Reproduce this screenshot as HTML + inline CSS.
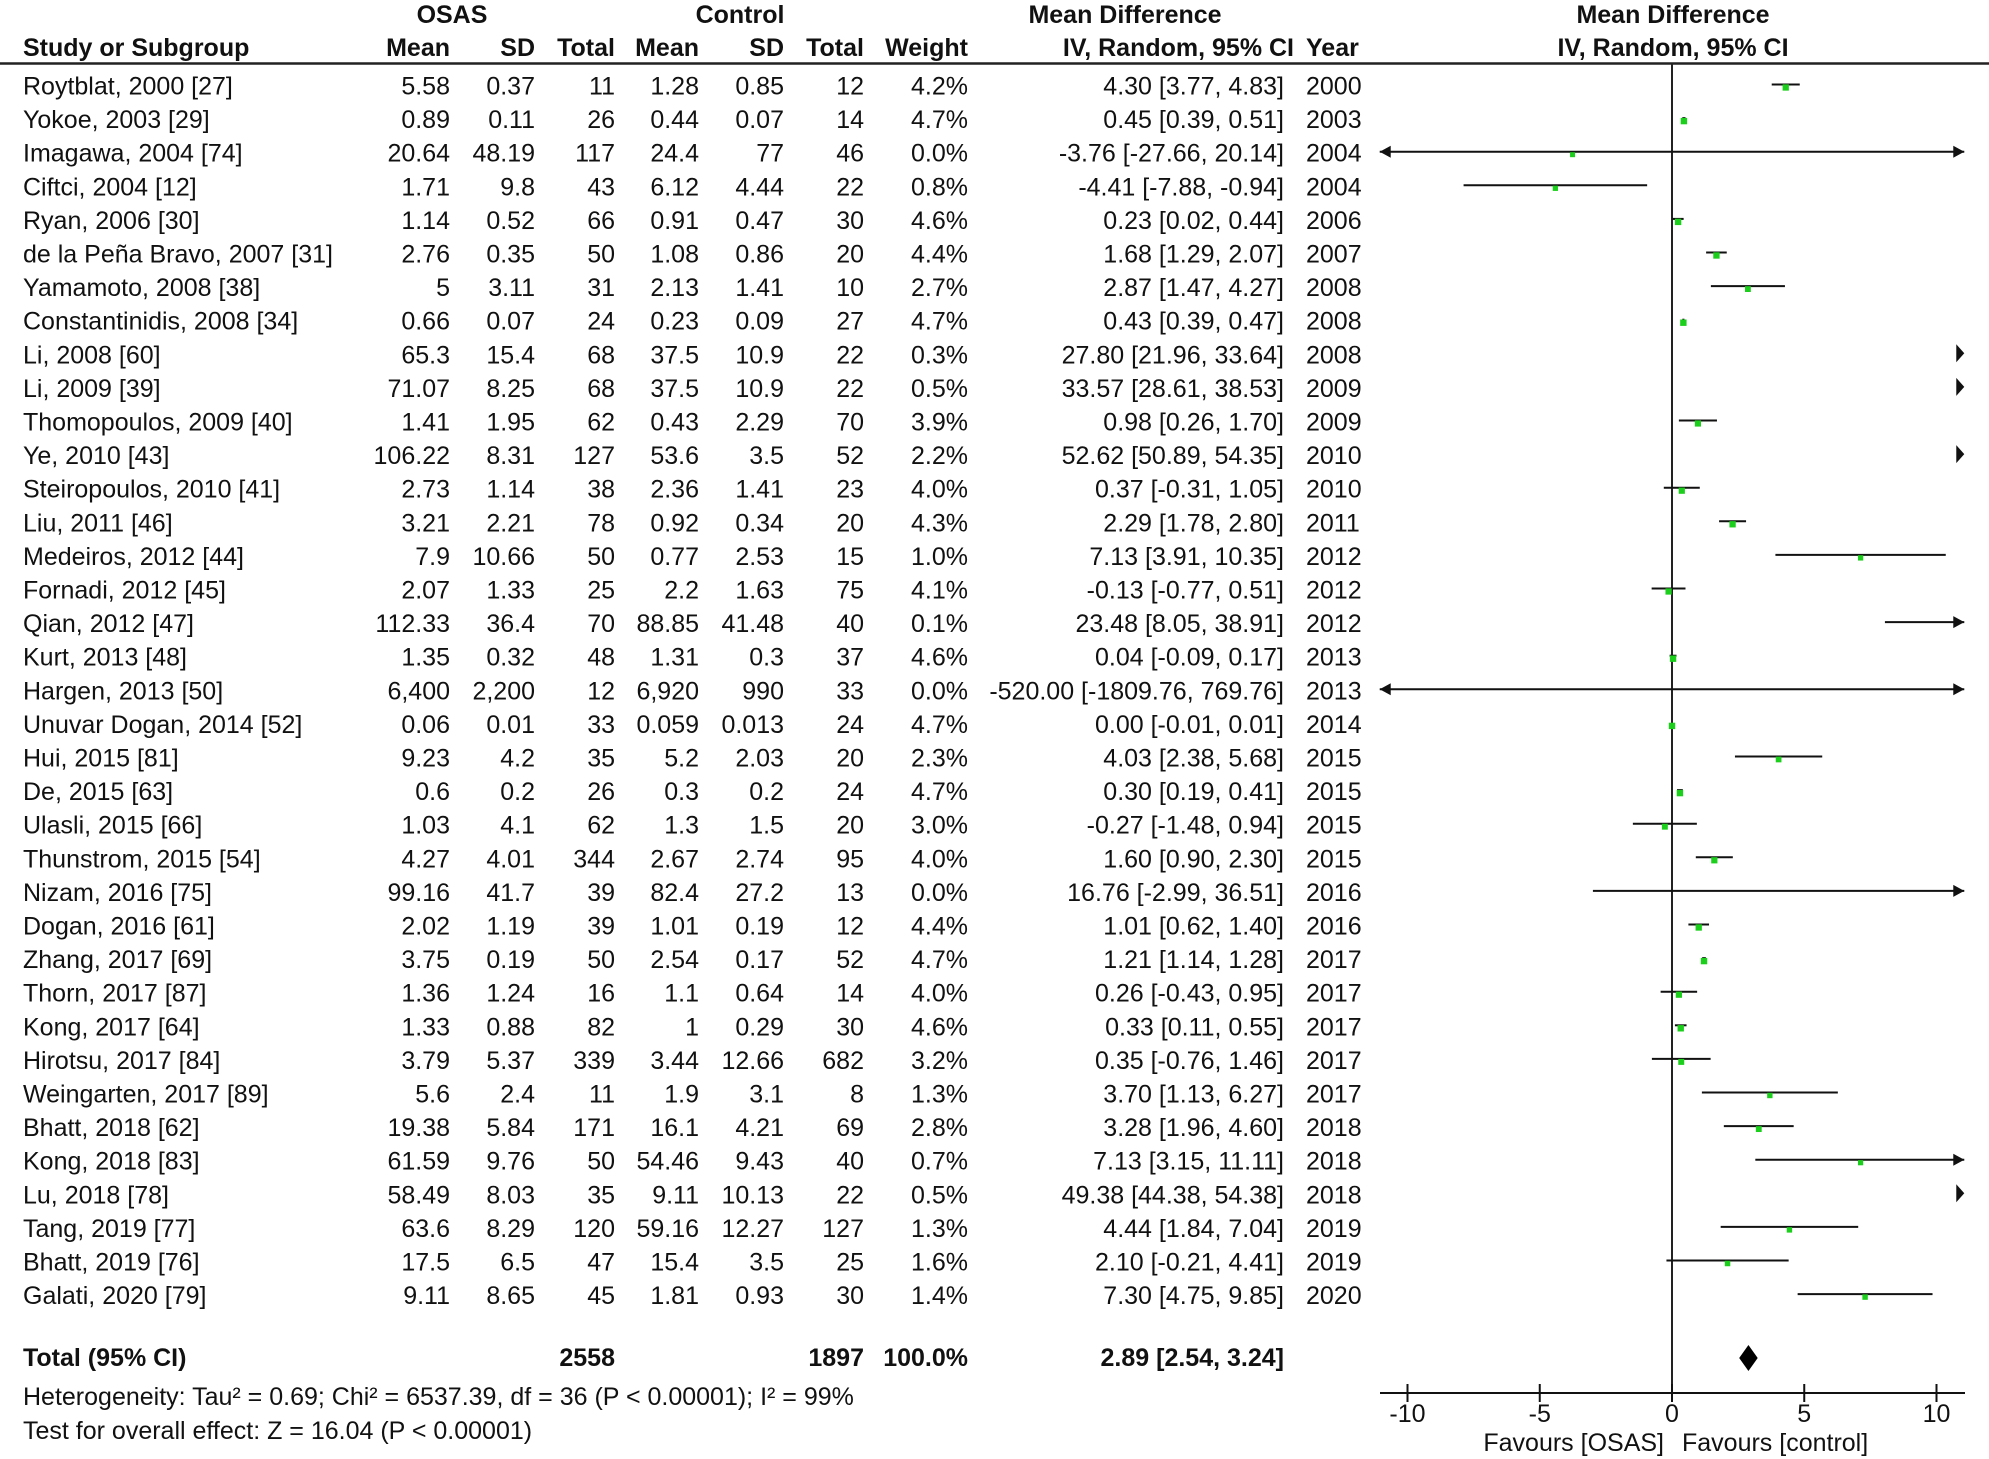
<!DOCTYPE html>
<html><head><meta charset="utf-8"><style>
html,body{margin:0;padding:0;background:#fff;}
svg{display:block;font-family:"Liberation Sans",Arial,sans-serif;}
</style></head><body>
<svg id="fp" width="1989" height="1459" viewBox="0 0 1989 1459"></svg>
<script>
const studies=["Roytblat, 2000 [27]","Yokoe, 2003 [29]","Imagawa, 2004 [74]","Ciftci, 2004 [12]","Ryan, 2006 [30]","de la Peña Bravo, 2007 [31]","Yamamoto, 2008 [38]","Constantinidis, 2008 [34]","Li, 2008 [60]","Li, 2009 [39]","Thomopoulos, 2009 [40]","Ye, 2010 [43]","Steiropoulos, 2010 [41]","Liu, 2011 [46]","Medeiros, 2012 [44]","Fornadi, 2012 [45]","Qian, 2012 [47]","Kurt, 2013 [48]","Hargen, 2013 [50]","Unuvar Dogan, 2014 [52]","Hui, 2015 [81]","De, 2015 [63]","Ulasli, 2015 [66]","Thunstrom, 2015 [54]","Nizam, 2016 [75]","Dogan, 2016 [61]","Zhang, 2017 [69]","Thorn, 2017 [87]","Kong, 2017 [64]","Hirotsu, 2017 [84]","Weingarten, 2017 [89]","Bhatt, 2018 [62]","Kong, 2018 [83]","Lu, 2018 [78]","Tang, 2019 [77]","Bhatt, 2019 [76]","Galati, 2020 [79]"];
const osasMean=["5.58","0.89","20.64","1.71","1.14","2.76","5","0.66","65.3","71.07","1.41","106.22","2.73","3.21","7.9","2.07","112.33","1.35","6,400","0.06","9.23","0.6","1.03","4.27","99.16","2.02","3.75","1.36","1.33","3.79","5.6","19.38","61.59","58.49","63.6","17.5","9.11"];
const osasSD=["0.37","0.11","48.19","9.8","0.52","0.35","3.11","0.07","15.4","8.25","1.95","8.31","1.14","2.21","10.66","1.33","36.4","0.32","2,200","0.01","4.2","0.2","4.1","4.01","41.7","1.19","0.19","1.24","0.88","5.37","2.4","5.84","9.76","8.03","8.29","6.5","8.65"];
const osasN=[11,26,117,43,66,50,31,24,68,68,62,127,38,78,50,25,70,48,12,33,35,26,62,344,39,39,50,16,82,339,11,171,50,35,120,47,45];
const ctrlMean=["1.28","0.44","24.4","6.12","0.91","1.08","2.13","0.23","37.5","37.5","0.43","53.6","2.36","0.92","0.77","2.2","88.85","1.31","6,920","0.059","5.2","0.3","1.3","2.67","82.4","1.01","2.54","1.1","1","3.44","1.9","16.1","54.46","9.11","59.16","15.4","1.81"];
const ctrlSD=["0.85","0.07","77","4.44","0.47","0.86","1.41","0.09","10.9","10.9","2.29","3.5","1.41","0.34","2.53","1.63","41.48","0.3","990","0.013","2.03","0.2","1.5","2.74","27.2","0.19","0.17","0.64","0.29","12.66","3.1","4.21","9.43","10.13","12.27","3.5","0.93"];
const ctrlN=[12,14,46,22,30,20,10,27,22,22,70,52,23,20,15,75,40,37,33,24,20,24,20,95,13,12,52,14,30,682,8,69,40,22,127,25,30];
const weights=[4.2,4.7,0.0,0.8,4.6,4.4,2.7,4.7,0.3,0.5,3.9,2.2,4.0,4.3,1.0,4.1,0.1,4.6,0.0,4.7,2.3,4.7,3.0,4.0,0.0,4.4,4.7,4.0,4.6,3.2,1.3,2.8,0.7,0.5,1.3,1.6,1.4];
const md=[4.30,0.45,-3.76,-4.41,0.23,1.68,2.87,0.43,27.80,33.57,0.98,52.62,0.37,2.29,7.13,-0.13,23.48,0.04,-520.00,0.00,4.03,0.30,-0.27,1.60,16.76,1.01,1.21,0.26,0.33,0.35,3.70,3.28,7.13,49.38,4.44,2.10,7.30];
const ciLo=[3.77,0.39,-27.66,-7.88,0.02,1.29,1.47,0.39,21.96,28.61,0.26,50.89,-0.31,1.78,3.91,-0.77,8.05,-0.09,-1809.76,-0.01,2.38,0.19,-1.48,0.90,-2.99,0.62,1.14,-0.43,0.11,-0.76,1.13,1.96,3.15,44.38,1.84,-0.21,4.75];
const ciHi=[4.83,0.51,20.14,-0.94,0.44,2.07,4.27,0.47,33.64,38.53,1.70,54.35,1.05,2.80,10.35,0.51,38.91,0.17,769.76,0.01,5.68,0.41,0.94,2.30,36.51,1.40,1.28,0.95,0.55,1.46,6.27,4.60,11.11,54.38,7.04,4.41,9.85];
const years=[2000,2003,2004,2004,2006,2007,2008,2008,2008,2009,2009,2010,2010,2011,2012,2012,2012,2013,2013,2014,2015,2015,2015,2015,2016,2016,2017,2017,2017,2017,2017,2018,2018,2018,2019,2019,2020];
const xTicks=[-10,-5,0,5,10];
const totalEffect=[2.89,2.54,3.24];

const NS="http://www.w3.org/2000/svg";
const svg=document.getElementById('fp');
const FS=25;
const row0=86.5, rowH=33.6;
const x0=1672, ppu=26.45, xMinV=-11.05, xMaxV=11.05;
const xs=v=>x0+v*ppu;
const rowY=i=>row0+i*rowH;
function mk(tag,attrs){const e=document.createElementNS(NS,tag);for(const k in attrs)e.setAttribute(k,attrs[k]);svg.appendChild(e);return e;}
function txt(s,x,y,anchor,bold){const t=mk('text',{x:x,y:y,'font-size':FS,'text-anchor':anchor||'start','dominant-baseline':'central',fill:'#111'});if(bold)t.setAttribute('font-weight','bold');t.textContent=s;return t;}
function f2(v){return v.toFixed(2);}

let h;
h=txt('OSAS',452,15,'middle',true);
h=txt('Control',740,15,'middle',true);
h=txt('Mean Difference',1125,15,'middle',true);
h=txt('Mean Difference',1673,15,'middle',true);
const hdr=[['Study or Subgroup',23,'start'],['Mean',450,'end'],['SD',535,'end'],['Total',615,'end'],['Mean',699,'end'],['SD',784,'end'],['Total',864,'end'],['Weight',968,'end'],['IV, Random, 95% CI',1294,'end'],['Year',1306,'start'],['IV, Random, 95% CI',1673,'middle']];
hdr.forEach(c=>{const t=txt(c[0],c[1],48,c[2],true);

});
let ln=mk('line',{x1:0,x2:1989,y1:63.5,y2:63.5,stroke:'#222','stroke-width':2.5});



const ay=1393;
ln=mk('line',{x1:xs(0),x2:xs(0),y1:63.5,y2:ay,stroke:'#222','stroke-width':2});



studies.forEach((s,i)=>{
  const y=rowY(i);
  const g=document.createElementNS(NS,'g');svg.appendChild(g);
  
  
  const cells=[[s,23,'start'],[osasMean[i],450,'end'],[osasSD[i],535,'end'],[String(osasN[i]),615,'end'],[ctrlMean[i],699,'end'],[ctrlSD[i],784,'end'],[String(ctrlN[i]),864,'end'],[weights[i].toFixed(1)+'%',968,'end'],[f2(md[i])+' ['+f2(ciLo[i])+', '+f2(ciHi[i])+']',1284,'end'],[String(years[i]),1306,'start']];
  cells.forEach(c=>{const t=txt(c[0],c[1],y,c[2]);g.appendChild(t);});
  const lo=Math.max(ciLo[i],xMinV), hi=Math.min(ciHi[i],xMaxV);
  if(lo<hi){
    const l=mk('line',{x1:xs(lo),x2:xs(hi),y1:y-2,y2:y-2,stroke:'#111','stroke-width':2});
    
    
    if(ciLo[i]<xMinV){const a=mk('path',{d:`M${xs(xMinV)},${y-2} l11,-6 l0,12 z`,fill:'#111'});
      
      }
    if(ciHi[i]>xMaxV){const a=mk('path',{d:`M${xs(xMaxV)},${y-2} l-11,-6 l0,12 z`,fill:'#111'});
      
      }
  } else if(ciLo[i]>=xMaxV){
    const a=mk('path',{d:`M${xs(xMaxV)},${y-2} l-8,-9 l0,18 z`,fill:'#111'});
    
    
  }
  if(md[i]>=xMinV&&md[i]<=xMaxV){
    const sz=5+weights[i]*0.3;
    const r=mk('rect',{x:xs(md[i])-sz/2,y:y-sz/2+1,width:sz,height:sz,fill:'#1ccf1c'});
    
    
  }
});

const ty=1358;
let t;
t=txt('Total (95% CI)',23,ty,'start',true);
t=txt(String(osasN.reduce((a,b)=>a+b,0)),615,ty,'end',true);
t=txt(String(ctrlN.reduce((a,b)=>a+b,0)),864,ty,'end',true);
t=txt('100.0%',968,ty,'end',true);
t=txt(f2(totalEffect[0])+' ['+f2(totalEffect[1])+', '+f2(totalEffect[2])+']',1284,ty,'end',true);
const dm=mk('path',{d:`M${xs(totalEffect[1])},${ty} L${xs(totalEffect[0])},${ty-13} L${xs(totalEffect[2])},${ty} L${xs(totalEffect[0])},${ty+13} Z`,fill:'#000'});


t=txt('Heterogeneity: Tau² = 0.69; Chi² = 6537.39, df = 36 (P < 0.00001); I² = 99%',23,1397,'start');
t=txt('Test for overall effect: Z = 16.04 (P < 0.00001)',23,1431,'start');

ln=mk('line',{x1:1380,x2:1965,y1:ay,y2:ay,stroke:'#111','stroke-width':2});


xTicks.forEach(v=>{
  const tk=mk('line',{x1:xs(v),x2:xs(v),y1:ay-9,y2:ay+9,stroke:'#111','stroke-width':2});
  
  
  const lb=txt(String(v),xs(v),1414,'middle');
  
  
});
t=txt('Favours [OSAS]',1664,1443,'end');
t=txt('Favours [control]',1682,1443,'start');
</script>
</body></html>
